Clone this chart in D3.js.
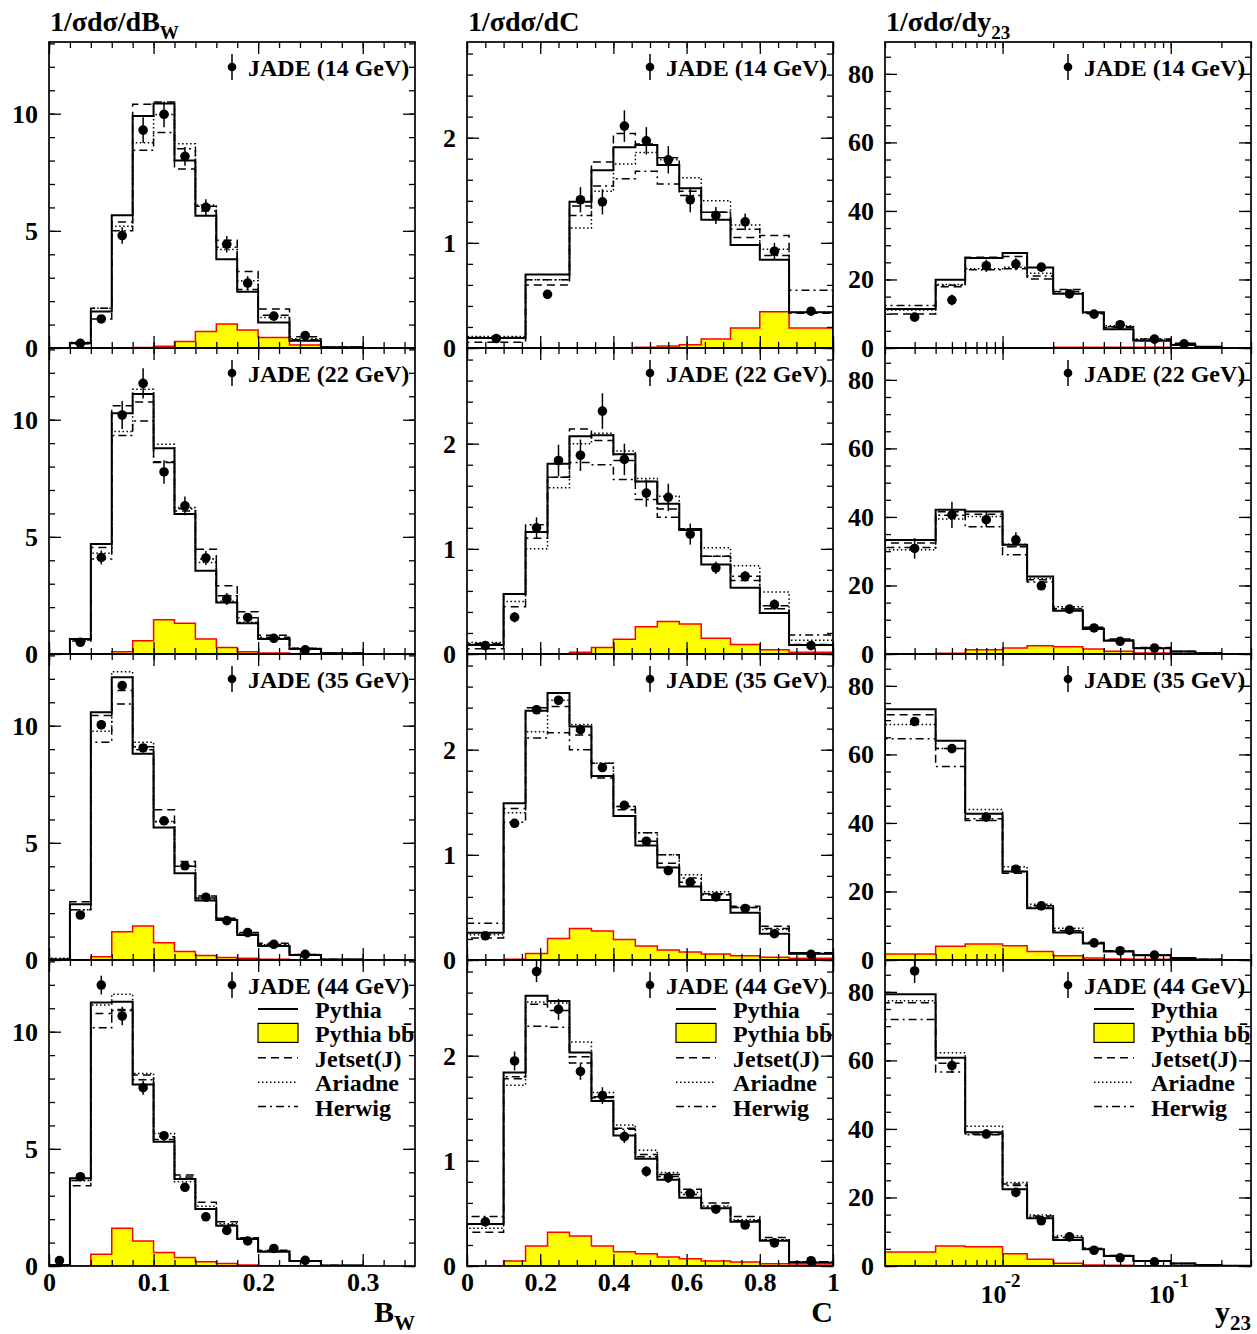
<!DOCTYPE html>
<html>
<head>
<meta charset="utf-8">
<script src="https://cdn.jsdelivr.net/npm/d3@7"></script>
<style>
  body { margin: 0; background: #fff; }
  svg { display: block; font-family: 'Liberation Serif', 'Times New Roman', serif; font-weight: bold; }
</style>
</head>
<body>
<svg id="chart" width="1257" height="1334"></svg>
<script>
const energies = ['14', '22', '35', '44'];

// bin edges
const bwEdges = [0, 0.02, 0.04, 0.06, 0.08, 0.1, 0.12, 0.14, 0.16, 0.18, 0.2, 0.23, 0.26, 0.3];
const cEdges14 = [0, 0.16, 0.28, 0.34, 0.40, 0.46, 0.52, 0.58, 0.64, 0.72, 0.80, 0.88, 1.0];
const cEdges = [0, 0.1, 0.16, 0.22, 0.28, 0.34, 0.40, 0.46, 0.52, 0.58, 0.64, 0.72, 0.80, 0.88, 1.0];
const yEdges = [0.002, 0.004, 0.006, 0.01, 0.014, 0.02, 0.03, 0.04, 0.06, 0.1, 0.14, 0.2, 0.3];

// B_W, one row per energy
const bwData = [
  [null, 0.2, 1.24, 4.8, 9.3, 9.97, 8.18, 6.0, 4.43, 2.77, 1.36, 0.53, null],
  [null, 0.5, 4.12, 10.2, 11.55, 7.77, 6.32, 4.1, 2.34, 1.56, 0.67, 0.18, null],
  [null, 1.92, 10.04, 11.71, 9.05, 5.94, 4.02, 2.68, 1.68, 1.17, 0.67, 0.24, null],
  [0.23, 3.81, 11.99, 10.67, 7.61, 5.56, 3.36, 2.1, 1.52, 1.07, 0.75, 0.24, null],
];
const bwErr = [
  [0, 0.05, 0.1, 0.35, 0.55, 0.55, 0.4, 0.35, 0.35, 0.3, 0.12, 0.08, 0],
  [0, 0.08, 0.3, 0.6, 0.65, 0.5, 0.4, 0.3, 0.25, 0.17, 0.08, 0.05, 0],
  [0, 0.1, 0.2, 0.2, 0.15, 0.1, 0.08, 0.06, 0.05, 0.04, 0.03, 0.02, 0],
  [0.04, 0.15, 0.4, 0.4, 0.3, 0.2, 0.15, 0.1, 0.08, 0.06, 0.05, 0.03, 0],
];
const bwPythia = [
  [0, 0.2, 1.56, 5.67, 9.9, 10.44, 8.0, 5.64, 3.79, 2.4, 1.09, 0.31, 0.03],
  [0, 0.64, 4.69, 10.27, 11.1, 8.78, 5.97, 3.55, 2.2, 1.31, 0.64, 0.21, 0.03],
  [0.02, 2.38, 10.57, 12.07, 8.8, 5.66, 3.7, 2.54, 1.71, 1.07, 0.6, 0.21, 0.02],
  [0.03, 3.74, 11.25, 11.28, 7.75, 5.3, 3.71, 2.43, 1.72, 1.15, 0.61, 0.21, 0.02],
];
const bwJetset = [
  [0, 0.22, 1.7, 5.38, 10.4, 10.5, 7.64, 5.85, 4.6, 3.27, 1.66, 0.48, 0.03],
  [0, 0.6, 4.55, 10.6, 10.75, 8.17, 6.1, 4.47, 2.91, 1.8, 0.8, 0.24, 0.03],
  [0.03, 2.49, 10.43, 11.5, 8.97, 6.41, 4.2, 2.73, 1.78, 1.17, 0.71, 0.24, 0.02],
  [0.03, 3.43, 10.78, 10.95, 8.15, 5.52, 3.88, 2.72, 1.89, 1.21, 0.67, 0.22, 0.02],
];
const bwAriadne = [
  [0, 0.25, 1.7, 5.2, 8.76, 9.97, 8.72, 6.1, 4.2, 2.87, 1.3, 0.4, 0.03],
  [0, 0.65, 4.3, 9.5, 11.3, 8.95, 6.25, 3.9, 2.25, 1.35, 0.66, 0.22, 0.03],
  [0.08, 2.14, 9.76, 12.3, 9.29, 5.91, 4.0, 2.6, 1.74, 1.12, 0.65, 0.23, 0.02],
  [0.03, 3.65, 11.14, 11.6, 8.22, 5.66, 3.6, 2.55, 1.8, 1.18, 0.64, 0.22, 0.02],
];
const bwHerwig = [
  [0, 0.18, 1.24, 5.0, 8.44, 9.2, 8.5, 6.05, 4.3, 2.5, 1.4, 0.35, 0.03],
  [0, 0.55, 4.05, 9.33, 9.94, 8.2, 6.2, 4.05, 2.49, 1.55, 0.72, 0.25, 0.03],
  [0.02, 2.14, 9.29, 10.93, 9.1, 5.9, 4.0, 2.65, 1.72, 1.1, 0.66, 0.22, 0.02],
  [0.03, 3.65, 10.17, 10.9, 7.95, 5.4, 3.8, 2.43, 1.75, 1.17, 0.64, 0.21, 0.02],
];
const bwBB = [
  [0, 0, 0, 0, 0.02, 0.07, 0.28, 0.7, 1.02, 0.77, 0.45, 0.13, 0],
  [0, 0, 0, 0.1, 0.57, 1.46, 1.31, 0.64, 0.28, 0.1, 0.04, 0.01, 0],
  [0, 0, 0.14, 1.21, 1.45, 0.74, 0.36, 0.19, 0.11, 0.07, 0.03, 0, 0],
  [0, 0, 0.5, 1.61, 1.07, 0.58, 0.36, 0.18, 0.11, 0.04, 0.01, 0, 0],
];

// C parameter
const cData = [
  [0.09, 0.51, 1.41, 1.39, 2.11, 1.97, 1.79, 1.41, 1.26, 1.2, 0.92, 0.35],
  [0.08, 0.35, 1.2, 1.84, 1.89, 2.31, 1.85, 1.53, 1.49, 1.14, 0.82, 0.74, 0.47, 0.08],
  [0.23, 1.3, 2.38, 2.47, 2.19, 1.83, 1.47, 1.13, 0.85, 0.74, 0.6, 0.49, 0.25, 0.054],
  [0.42, 1.95, 2.8, 2.44, 1.85, 1.62, 1.23, 0.9, 0.84, 0.69, 0.54, 0.39, 0.22, 0.05],
];
const cErr = [
  [0.02, 0.04, 0.12, 0.12, 0.15, 0.13, 0.13, 0.12, 0.08, 0.08, 0.08, 0.03],
  [0.02, 0.05, 0.1, 0.15, 0.15, 0.17, 0.15, 0.13, 0.13, 0.1, 0.06, 0.05, 0.05, 0.02],
  [0.01, 0.02, 0.03, 0.03, 0.03, 0.02, 0.02, 0.02, 0.02, 0.01, 0.01, 0.01, 0.01, 0.005],
  [0.03, 0.09, 0.1, 0.1, 0.08, 0.08, 0.06, 0.05, 0.05, 0.04, 0.03, 0.03, 0.02, 0.01],
];
const cPythia = [
  [0.095, 0.7, 1.39, 1.69, 1.91, 1.93, 1.74, 1.52, 1.22, 0.98, 0.84, 0.34],
  [0.085, 0.57, 1.16, 1.81, 2.07, 2.08, 1.9, 1.64, 1.43, 1.18, 0.85, 0.63, 0.39, 0.085],
  [0.26, 1.49, 2.37, 2.54, 2.22, 1.75, 1.37, 1.09, 0.88, 0.7, 0.57, 0.45, 0.25, 0.06],
  [0.4, 1.84, 2.57, 2.52, 2.03, 1.57, 1.24, 1.02, 0.82, 0.65, 0.55, 0.42, 0.24, 0.03],
];
const cJetset = [
  [0.054, 0.6, 1.35, 1.77, 2.04, 1.94, 1.81, 1.49, 1.29, 1.05, 1.07, 0.33],
  [0.05, 0.45, 1.1, 1.68, 2.14, 2.03, 1.84, 1.64, 1.38, 1.19, 0.93, 0.7, 0.43, 0.09],
  [0.21, 1.44, 2.4, 2.41, 2.14, 1.73, 1.43, 1.13, 0.92, 0.74, 0.63, 0.51, 0.32, 0.07],
  [0.32, 1.78, 2.49, 2.43, 1.99, 1.61, 1.31, 1.06, 0.87, 0.73, 0.6, 0.47, 0.27, 0.04],
];
const cAriadne = [
  [0.11, 0.65, 1.14, 1.49, 1.75, 1.86, 1.79, 1.62, 1.40, 1.17, 0.94, 0.34],
  [0.11, 0.5, 1.0, 1.58, 2.0, 2.1, 1.93, 1.67, 1.5, 1.19, 1.01, 0.84, 0.59, 0.13],
  [0.24, 1.4, 2.17, 2.47, 2.24, 1.87, 1.46, 1.21, 1.0, 0.81, 0.65, 0.5, 0.29, 0.06],
  [0.36, 1.72, 2.51, 2.5, 2.13, 1.65, 1.34, 1.1, 0.89, 0.7, 0.57, 0.44, 0.25, 0.04],
];
const cHerwig = [
  [0.1, 0.65, 1.26, 1.54, 1.61, 1.68, 1.56, 1.45, 1.29, 1.13, 0.88, 0.55],
  [0.1, 0.57, 1.23, 1.68, 1.82, 1.8, 1.66, 1.47, 1.3, 1.19, 0.93, 0.74, 0.46, 0.18],
  [0.35, 1.31, 2.11, 2.16, 2.0, 1.87, 1.46, 1.21, 1.0, 0.78, 0.62, 0.5, 0.3, 0.07],
  [0.47, 1.8, 2.28, 2.27, 1.93, 1.6, 1.3, 1.04, 0.85, 0.68, 0.56, 0.43, 0.25, 0.04],
];
const cBB = [
  [0, 0, 0, 0, 0, 0.006, 0.02, 0.03, 0.085, 0.19, 0.345, 0.19],
  [0, 0, 0, 0, 0.016, 0.063, 0.14, 0.26, 0.31, 0.285, 0.15, 0.09, 0.04, 0.016],
  [0, 0.006, 0.063, 0.205, 0.3, 0.275, 0.196, 0.133, 0.095, 0.076, 0.057, 0.041, 0.025, 0.016],
  [0, 0.047, 0.19, 0.32, 0.285, 0.19, 0.136, 0.117, 0.085, 0.07, 0.047, 0.038, 0.022, 0.01],
];

// y23
const yData = [
  [9.0, 14.0, 24.0, 24.5, 23.6, 15.8, 9.9, 6.8, 2.6, 1.2, null, null],
  [30.8, 40.6, 39.2, 33.3, 19.9, 13.1, 7.6, 3.7, 1.75, null, null, null],
  [69.6, 61.7, 41.7, 26.5, 15.8, 8.7, 5.0, 2.7, 1.45, null, null, null],
  [86.1, 58.5, 38.5, 21.5, 13.2, 8.5, 4.6, 2.4, 1.2, null, null, null],
];
const yErr = [
  [1.0, 1.6, 1.8, 1.8, 1.2, 0.8, 0.6, 0.4, 0.3, 0.2, 0, 0],
  [3.0, 3.8, 2.2, 2.2, 1.0, 0.8, 0.5, 0.3, 0.2, 0, 0, 0],
  [1.0, 0.8, 0.5, 0.4, 0.3, 0.2, 0.15, 0.1, 0.08, 0, 0, 0],
  [3.5, 2.2, 1.3, 0.9, 0.6, 0.4, 0.3, 0.2, 0.1, 0, 0, 0],
];
const yPythia = [
  [11.4, 19.9, 26.3, 27.7, 23.5, 15.8, 10.4, 5.5, 2.1, 0.9, 0.4, 0],
  [33.3, 42.1, 41.6, 31.9, 22.6, 12.6, 7.3, 3.9, 1.65, 0.7, 0.2, 0],
  [73.2, 64.0, 42.7, 25.8, 15.1, 8.05, 4.85, 2.5, 1.36, 0.6, 0.15, 0],
  [79.3, 60.8, 39.0, 22.4, 13.9, 7.6, 4.9, 2.9, 1.45, 0.7, 0.3, 0.1],
];
const yJetset = [
  [9.9, 17.9, 26.5, 26.7, 20.1, 17.1, 10.0, 6.0, 2.6, 1.4, 0.4, 0],
  [32.4, 41.5, 40.8, 31.3, 21.7, 13.1, 7.8, 4.4, 1.9, 0.7, 0.2, 0],
  [71.6, 61.7, 40.7, 25.3, 15.8, 8.5, 5.1, 2.7, 1.45, 0.6, 0.15, 0],
  [76.8, 59.2, 38.5, 23.9, 14.6, 8.3, 5.2, 3.1, 1.5, 0.7, 0.3, 0.1],
];
const yAriadne = [
  [11.1, 18.5, 23.1, 23.6, 21.8, 16.0, 10.3, 6.5, 2.6, 1.1, 0.4, 0],
  [30.4, 39.4, 40.1, 32.0, 22.0, 13.8, 7.6, 4.1, 1.8, 0.7, 0.2, 0],
  [68.7, 61.7, 43.9, 27.2, 16.3, 9.3, 5.1, 2.7, 1.45, 0.6, 0.15, 0],
  [77.4, 62.2, 40.8, 24.4, 14.9, 8.8, 5.2, 3.1, 1.5, 0.7, 0.3, 0.1],
];
const yHerwig = [
  [12.4, 18.3, 22.8, 23.1, 21.0, 16.5, 10.2, 6.2, 2.4, 1.0, 0.4, 0],
  [31.1, 40.5, 37.1, 29.0, 21.0, 13.3, 7.5, 4.0, 1.7, 0.7, 0.2, 0],
  [64.6, 56.5, 41.2, 25.8, 15.5, 8.6, 5.0, 2.6, 1.4, 0.6, 0.15, 0],
  [71.9, 56.6, 38.3, 23.5, 14.3, 8.3, 5.0, 3.0, 1.45, 0.7, 0.3, 0.1],
];
const yBB = [
  [0, 0, 0, 0, 0.05, 0.2, 0.25, 0.25, 0.2, 0.1, 0, 0],
  [0.05, 0.2, 1.26, 1.75, 2.4, 2.1, 1.46, 0.78, 0.3, 0.1, 0, 0],
  [1.75, 3.98, 4.65, 4.17, 2.5, 1.26, 0.58, 0.3, 0.2, 0.05, 0, 0],
  [4.1, 5.85, 5.65, 3.6, 1.95, 0.8, 0.3, 0.2, 0.05, 0, 0, 0],
];

const legendNames = ['Pythia', 'Pythia bb\u0304', 'Jetset(J)', 'Ariadne', 'Herwig'];

// layout
const W = 366, H = 306;
const colX = [49, 467, 885];
const rowY = [42, 348, 654, 960];

const styles = {
  pythia: { dash: null, width: 2 },
  jetset: { dash: '8,5', width: 1.5 },
  ariadne: { dash: '1.5,2.5', width: 1.5 },
  herwig: { dash: '8,4,2,4', width: 1.5 },
};

const columns = [
  {
    x: d3.scaleLinear().domain([0, 0.35]).range([0, W]),
    y: d3.scaleLinear().domain([0, 13.06]).range([H, 0]),
    edges: (r) => bwEdges,
    data: bwData, err: bwErr, pythia: bwPythia, jetset: bwJetset, ariadne: bwAriadne, herwig: bwHerwig, bb: bwBB,
    xMajor: [0, 0.1, 0.2, 0.3], xMinor: d3.range(0, 0.3501, 0.02),
    yMajor: [0, 5, 10], yMinor: d3.range(0, 13.01, 1),
    title: ['1/\u03c3d\u03c3/dB', 'W'], axisTitle: ['B', 'W'],
  },
  {
    x: d3.scaleLinear().domain([0, 1]).range([0, W]),
    y: d3.scaleLinear().domain([0, 2.91]).range([H, 0]),
    edges: (r) => (r === 0 ? cEdges14 : cEdges),
    data: cData, err: cErr, pythia: cPythia, jetset: cJetset, ariadne: cAriadne, herwig: cHerwig, bb: cBB,
    xMajor: [0, 0.2, 0.4, 0.6, 0.8, 1], xMinor: d3.range(0, 1.001, 0.05),
    yMajor: [0, 1, 2], yMinor: d3.range(0, 2.81, 0.2),
    title: ['1/\u03c3d\u03c3/dC', ''], axisTitle: ['C', ''],
  },
  {
    x: d3.scaleLog().domain([0.002, 0.3]).range([0, W]),
    y: d3.scaleLinear().domain([0, 89.3]).range([H, 0]),
    edges: (r) => yEdges,
    data: yData, err: yErr, pythia: yPythia, jetset: yJetset, ariadne: yAriadne, herwig: yHerwig, bb: yBB,
    xMajor: [0.01, 0.1], xMinor: null, log: true,
    yMajor: [0, 20, 40, 60, 80], yMinor: d3.range(0, 86, 5),
    title: ['1/\u03c3d\u03c3/dy', '23'], axisTitle: ['y', '23'],
  },
];

const svg = d3.select('#chart');
const fmt = d3.format('~g');

function stepPoints(edges, vals) {
  const pts = [[edges[0], 0]];
  vals.forEach((v, i) => {
    pts.push([edges[i], v], [edges[i + 1], v]);
  });
  pts.push([edges[edges.length - 1], 0]);
  return pts;
}

function styleAxis(g) {
  g.select('.domain').remove();
  g.selectAll('line').attr('stroke', '#000').attr('stroke-width', 1.3);
  g.attr('font-family', null).attr('font-size', 26);
}

function drawAxes(g, col, bottomLabels) {
  const { x, y } = col;
  const xMinor = col.log ? x.ticks() : col.xMinor;

  // left
  g.append('g')
    .call(d3.axisLeft(y).tickValues(col.yMajor).tickSize(-12).tickSizeOuter(0).tickPadding(11).tickFormat(fmt))
    .call(styleAxis);
  g.append('g')
    .call(d3.axisLeft(y).tickValues(col.yMinor).tickSize(-6).tickSizeOuter(0).tickFormat(''))
    .call(styleAxis);
  // right
  [[col.yMajor, -12], [col.yMinor, -6]].forEach(([vals, s]) => {
    g.append('g')
      .attr('transform', `translate(${W},0)`)
      .call(d3.axisRight(y).tickValues(vals).tickSize(s).tickSizeOuter(0).tickFormat(''))
      .call(styleAxis);
  });
  // top
  [[col.xMajor, -12], [xMinor, -6]].forEach(([vals, s]) => {
    g.append('g')
      .call(d3.axisTop(x).tickValues(vals).tickSize(s).tickSizeOuter(0).tickFormat(''))
      .call(styleAxis);
  });
  // bottom
  g.append('g')
    .attr('transform', `translate(0,${H})`)
    .call(d3.axisBottom(x).tickValues(xMinor).tickSize(-6).tickSizeOuter(0).tickFormat(''))
    .call(styleAxis);
  const bx = g.append('g')
    .attr('transform', `translate(0,${H})`)
    .call(d3.axisBottom(x).tickValues(col.xMajor).tickSize(-12).tickSizeOuter(0).tickPadding(7)
      .tickFormat(bottomLabels && !col.log ? fmt : ''))
    .call(styleAxis);

  if (bottomLabels && col.log) {
    col.xMajor.forEach((v) => {
      bx.append('text')
        .attr('x', x(v) + 4)
        .attr('y', 37)
        .attr('fill', '#000')
        .attr('text-anchor', 'end')
        .text('10');
      bx.append('text')
        .attr('x', x(v) + 10)
        .attr('y', 21)
        .attr('fill', '#000')
        .attr('font-size', 19)
        .text(v === 0.01 ? '-2' : '-1');
    });
  }
}

function drawPanel(ci, ri) {
  const col = columns[ci];
  const { x, y } = col;
  const edges = col.edges(ri);
  const g = svg.append('g').attr('transform', `translate(${colX[ci]},${rowY[ri]})`);

  const clipId = `clip-${ci}-${ri}`;
  g.append('clipPath').attr('id', clipId)
    .append('rect').attr('width', W).attr('height', H);

  const plot = g.append('g').attr('clip-path', `url(#${clipId})`);

  const line = d3.line().x((d) => x(d[0])).y((d) => y(d[1]));
  const area = d3.area().x((d) => x(d[0])).y0(y(0)).y1((d) => y(d[1]));

  plot.append('path')
    .attr('d', area(stepPoints(edges, col.bb[ri])))
    .attr('fill', '#ffff00')
    .attr('stroke', '#ff0000')
    .attr('stroke-width', 1.5);

  ['herwig', 'ariadne', 'jetset', 'pythia'].forEach((k) => {
    plot.append('path')
      .attr('d', line(stepPoints(edges, col[k][ri])))
      .attr('fill', 'none')
      .attr('stroke', '#000')
      .attr('stroke-width', styles[k].width)
      .attr('stroke-dasharray', styles[k].dash);
  });

  const pts = col.data[ri]
    .map((v, i) => ({ x: (edges[i] + edges[i + 1]) / 2, v, e: col.err[ri][i] }))
    .filter((d) => d.v !== null);

  plot.selectAll('line.err')
    .data(pts)
    .join('line')
    .attr('class', 'err')
    .attr('x1', (d) => x(d.x)).attr('x2', (d) => x(d.x))
    .attr('y1', (d) => y(d.v - d.e)).attr('y2', (d) => y(d.v + d.e))
    .attr('stroke', '#000').attr('stroke-width', 1.5);

  plot.selectAll('circle.pt')
    .data(pts)
    .join('circle')
    .attr('class', 'pt')
    .attr('cx', (d) => x(d.x)).attr('cy', (d) => y(d.v))
    .attr('r', 4.8)
    .attr('fill', '#000');

  drawAxes(g, col, ri === 3);

  g.append('rect')
    .attr('width', W).attr('height', H)
    .attr('fill', 'none').attr('stroke', '#000').attr('stroke-width', 1.7);

  // JADE label
  g.append('line')
    .attr('x1', 183).attr('x2', 183).attr('y1', 12).attr('y2', 38)
    .attr('stroke', '#000').attr('stroke-width', 1.5);
  g.append('circle').attr('cx', 183).attr('cy', 25).attr('r', 4.3).attr('fill', '#000');
  g.append('text')
    .attr('x', 199).attr('y', 34)
    .attr('font-size', 24)
    .text(`JADE (${energies[ri]} GeV)`);

  if (ri === 3) drawLegend(g);
}

function drawLegend(g) {
  const keys = ['pythia', 'bb', 'jetset', 'ariadne', 'herwig'];
  keys.forEach((k, i) => {
    const ly = 49 + i * 24.4;
    if (k === 'bb') {
      g.append('rect')
        .attr('x', 209).attr('y', ly - 10).attr('width', 40).attr('height', 19)
        .attr('fill', '#ffff00').attr('stroke', '#000').attr('stroke-width', 1.2);
    } else {
      g.append('line')
        .attr('x1', 209).attr('x2', 249).attr('y1', ly).attr('y2', ly)
        .attr('stroke', '#000')
        .attr('stroke-width', styles[k].width)
        .attr('stroke-dasharray', styles[k].dash);
    }
    g.append('text')
      .attr('x', 266).attr('y', ly + 9)
      .attr('font-size', 24)
      .text(legendNames[i]);
  });
}

columns.forEach((col, ci) => {
  energies.forEach((e, ri) => drawPanel(ci, ri));

  // column title
  const t = svg.append('text')
    .attr('x', colX[ci] + 1).attr('y', 31)
    .attr('font-size', 28)
    .text(col.title[0]);
  t.append('tspan').attr('dy', 8).attr('font-size', 19).text(col.title[1]);

  // axis title
  const a = svg.append('text')
    .attr('x', colX[ci] + W).attr('y', 1322)
    .attr('text-anchor', 'end')
    .attr('font-size', 30)
    .text(col.axisTitle[0]);
  a.append('tspan').attr('dy', 8).attr('font-size', 21).text(col.axisTitle[1]);
});
</script>
</body>
</html>
